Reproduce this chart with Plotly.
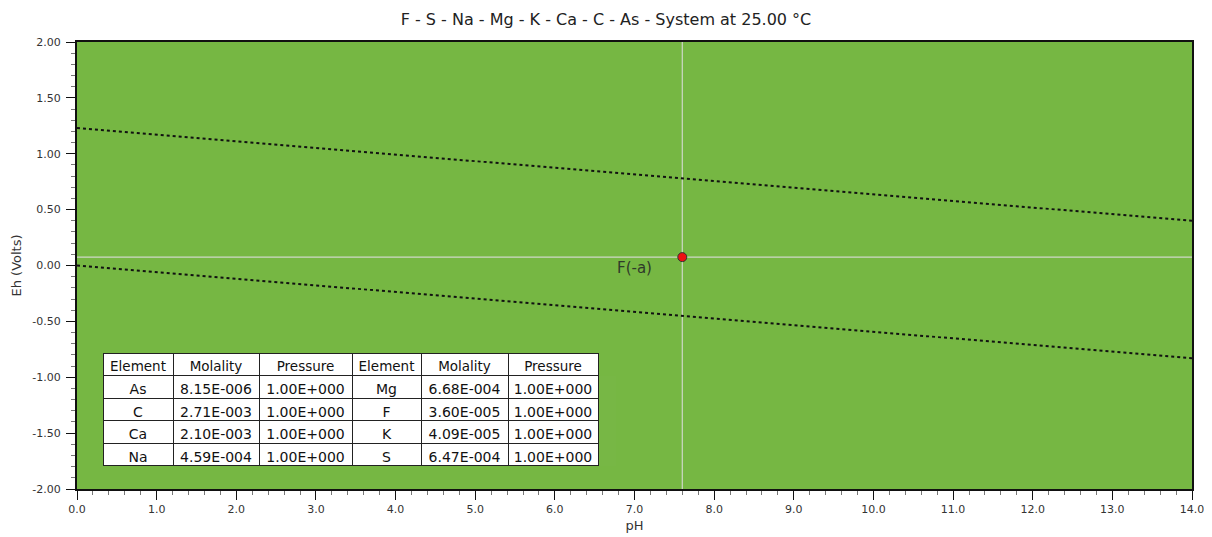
import plotly.graph_objects as go

# Data
ph_ends = [0.0, 14.0]
eh_upper = [1.23, 0.40]   # water stability upper (O2/H2O)
eh_lower = [0.00, -0.83]  # water stability lower (H2O/H2)
point_ph = 7.6
point_eh = 0.075
point_label = "F(-a)"
label_ph = 7.0
label_eh = -0.02

elements_1 = ["As", "C", "Ca", "Na"]
molality_1 = ["8.15E-006", "2.71E-003", "2.10E-003", "4.59E-004"]
pressure_1 = ["1.00E+000"] * 4
elements_2 = ["Mg", "F", "K", "S"]
molality_2 = ["6.68E-004", "3.60E-005", "4.09E-005", "6.47E-004"]
pressure_2 = ["1.00E+000"] * 4
headers = ["Element", "Molality", "Pressure", "Element", "Molality", "Pressure"]

x_ticks = [i * 1.0 for i in range(15)]
y_ticks = [-2.0, -1.5, -1.0, -0.5, 0.0, 0.5, 1.0, 1.5, 2.0]

FONT = "DejaVu Sans"
GREEN = "#76B743"
W, H = 1212, 537
ml, mr, mt, mb = 69, 28, 34, 56
OFF = 7  # page offset of the figure

fig = go.Figure()

# crosshair lines
fig.add_trace(go.Scatter(x=[point_ph, point_ph], y=[-2, 2], mode="lines",
                         line=dict(color="#cfd8c8", width=1.2), hoverinfo="skip", showlegend=False))
fig.add_trace(go.Scatter(x=[0, 14], y=[point_eh, point_eh], mode="lines",
                         line=dict(color="#cfd8c8", width=1.2), hoverinfo="skip", showlegend=False))

fig.add_trace(go.Scatter(x=ph_ends, y=eh_upper, mode="lines",
                         line=dict(color="#111111", width=2, dash="dot"), showlegend=False))
fig.add_trace(go.Scatter(x=ph_ends, y=eh_lower, mode="lines",
                         line=dict(color="#111111", width=2, dash="dot"), showlegend=False))

fig.add_trace(go.Scatter(x=[point_ph], y=[point_eh], mode="markers",
                         marker=dict(color="#ee1111", size=9, line=dict(color="#333333", width=1)),
                         showlegend=False))

fig.add_annotation(x=label_ph, y=label_eh, text=point_label, showarrow=False,
                   font=dict(family=FONT, size=15, color="#2f3a2a"))

# table
plot_w = W - ml - mr
plot_h = H - mt - mb
tx0, tx1 = 102 - OFF, 597 - OFF
ty0, ty1 = 352 - OFF, 465 - OFF
fig.add_trace(go.Table(
    domain=dict(x=[(tx0 - ml) / plot_w, (tx1 - ml) / plot_w],
                y=[(H - mb - ty1) / plot_h, (H - mb - ty0) / plot_h]),
    columnwidth=[70, 86, 93, 69, 87, 90],
    header=dict(values=headers, fill_color="white", line=dict(color="#222222", width=1),
                font=dict(family=FONT, size=13.5, color="#111111"), align="center", height=22.5),
    cells=dict(values=[elements_1, molality_1, pressure_1, elements_2, molality_2, pressure_2],
               fill_color="white", line=dict(color="#222222", width=1),
               font=dict(family=FONT, size=14, color="#111111"), align="center", height=22.5),
))

fig.update_layout(
    width=W, height=H,
    margin=dict(l=ml, r=mr, t=mt, b=mb),
    paper_bgcolor="white", plot_bgcolor=GREEN,
    title=dict(text="F - S - Na - Mg - K - Ca - C - As - System at 25.00 \u00b0C",
               x=598 / W, xref="container", xanchor="center",
               y=1 - (18 - OFF) / H, yanchor="middle",
               font=dict(family=FONT, size=16, color="#222222")),
    font=dict(family=FONT, color="#333333"),
    xaxis=dict(range=[0, 14], tickvals=x_ticks, ticktext=[f"{v:.1f}" for v in x_ticks],
               showgrid=False, zeroline=False, showline=True, linecolor="#111111", linewidth=2,
               mirror=True, ticks="outside", ticklen=9, tickcolor="#111111", automargin=False,
               minor=dict(ticks="outside", ticklen=4, dtick=0.2, tickcolor="#777777", showgrid=False),
               tickfont=dict(family=FONT, size=11, color="#333333"),
               title=dict(text="pH", font=dict(family=FONT, size=13, color="#333333"), standoff=6)),
    yaxis=dict(range=[-2, 2], tickvals=y_ticks, ticktext=[f"{v:.2f}" for v in y_ticks],
               showgrid=False, zeroline=False, showline=True, linecolor="#111111", linewidth=2,
               mirror=True, ticks="outside", ticklen=9, tickcolor="#111111", ticklabelstandoff=3,
               automargin=False,
               minor=dict(ticks="outside", ticklen=4, dtick=0.1, tickcolor="#777777", showgrid=False),
               tickfont=dict(family=FONT, size=11, color="#333333"),
               title=dict(text="Eh (Volts)", font=dict(family=FONT, size=13, color="#333333"), standoff=8)),
)

fig.write_html("out.html")
